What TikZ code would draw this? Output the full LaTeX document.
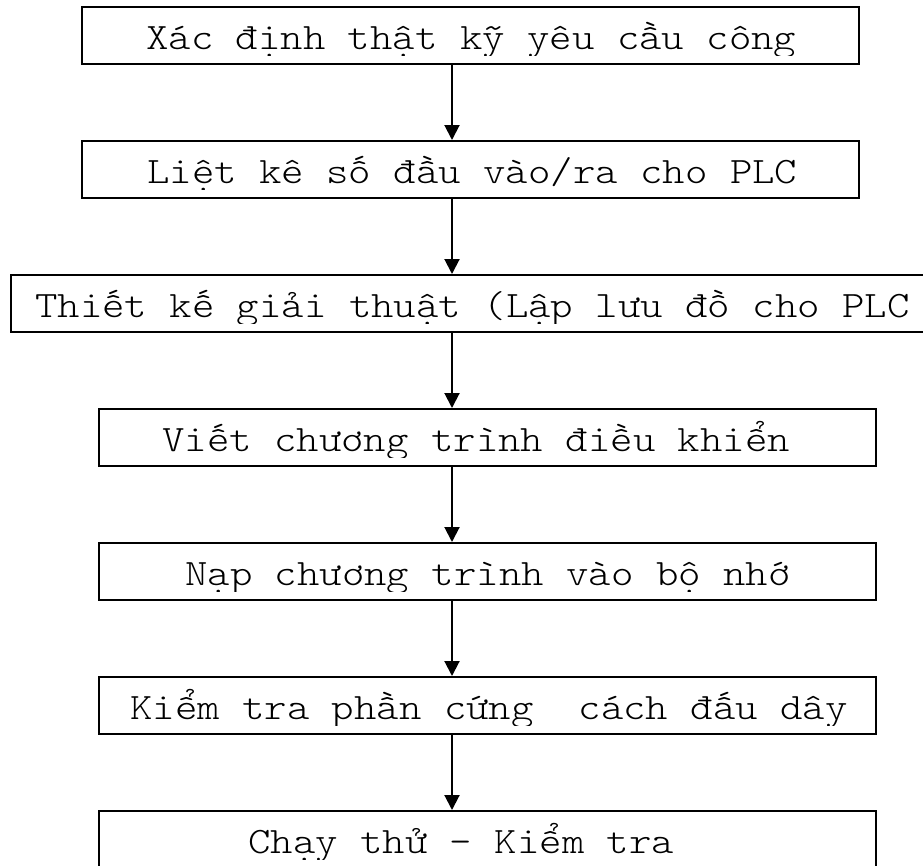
\documentclass[tikz,border=0pt]{standalone}
\usepackage{fontspec}
\setmonofont[FakeStretch=1.145]{Latin Modern Mono Light}
\usetikzlibrary{arrows.meta}
\tikzset{
  stepbox/.style={draw=black, line width=2pt, inner sep=0pt, fill=none},
  steptext/.style={anchor=base west, inner sep=0pt, font=\ttfamily\fontsize{37.3}{40}\selectfont},
  flow/.style={draw=black, line width=2pt, -{Triangle[width=15pt,length=15pt]}}
}
% one box: name, left, top, right, text x, label
\newcommand{\flowstep}[6]{%
  \node[stepbox, minimum width={#4-#2}, minimum height=57pt] (#1) at ({(#2+#4)/2},{#3+28.5}) {};
  \begin{scope}
    \clip (#2,#3) rectangle (#4,{#3+48});
    \node[steptext] (#1t) at (#5,{#3+42}) {#6};
  \end{scope}}
\begin{document}
\begin{tikzpicture}[x=1pt,y=-1pt]
  \clip (0,0) rectangle (923,865);
  \fill[white] (0,0) rectangle (923,865);
  \coordinate (ax) at (452,0);
  \flowstep{b1}{82}{7}{859}{146}{Xác định thật kỹ yêu cầu công}
  \flowstep{b2}{82}{141}{859}{147}{Liệt kê số đầu vào/ra cho PLC}
  \flowstep{b3}{11}{275}{960}{35}{Thiết kế giải thuật (Lập lưu đồ cho PLC}
  \flowstep{b4}{99}{409}{876}{162}{Viết chương trình điều khiển}
  \flowstep{b5}{99}{543}{876}{185}{Nạp chương trình vào bộ nhớ}
  \flowstep{b6}{99}{677}{876}{130}{Kiểm tra phần cứng\ \ cách đấu dây}
  \flowstep{b7}{99}{811}{876}{248}{Chạy thử - Kiểm tra}
  \draw[flow] (b1.south -| ax) -- (b2.north -| ax);
  \draw[flow] (b2.south -| ax) -- (b3.north -| ax);
  \draw[flow] (b3.south -| ax) -- (b4.north -| ax);
  \draw[flow] (b4.south -| ax) -- (b5.north -| ax);
  \draw[flow] (b5.south -| ax) -- (b6.north -| ax);
  \draw[flow] (b6.south -| ax) -- (b7.north -| ax);
\end{tikzpicture}
\end{document}
